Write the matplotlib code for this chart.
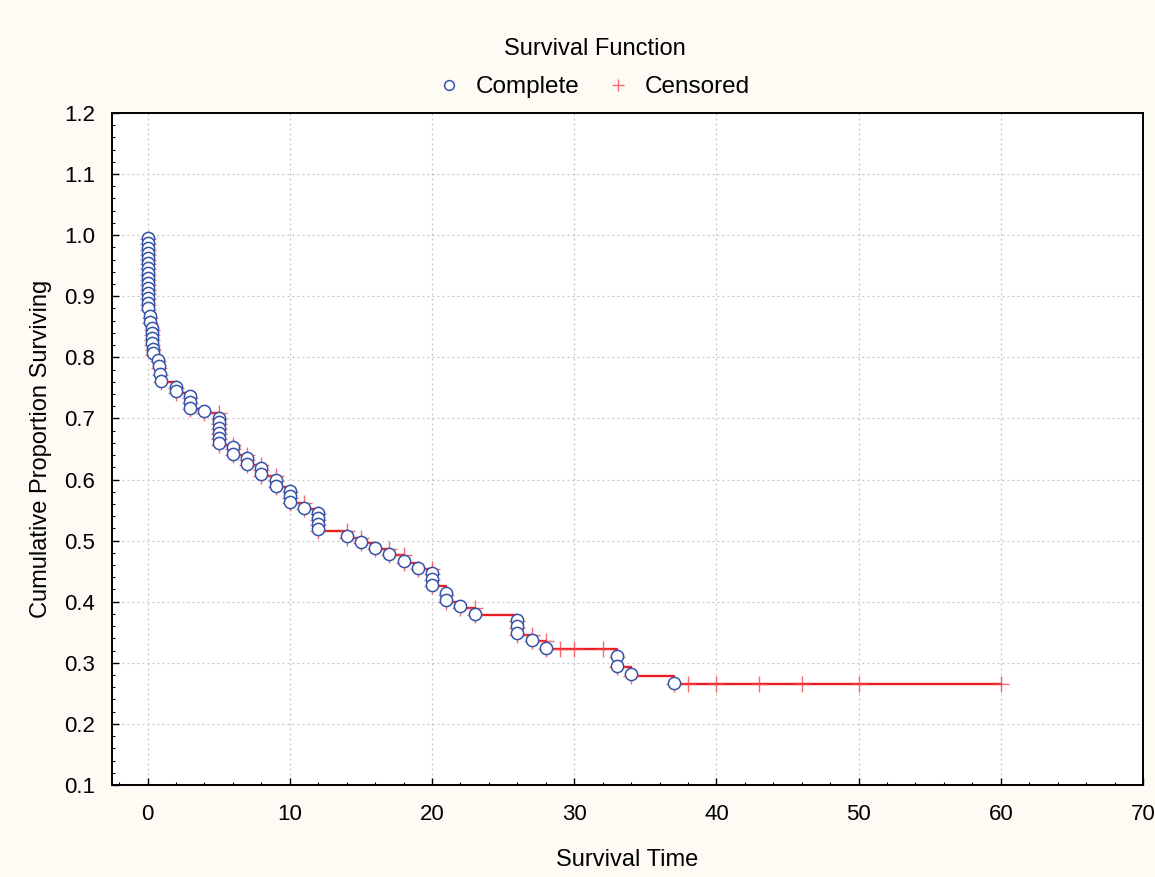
import numpy as np
import matplotlib

matplotlib.use("Agg")
import matplotlib.pyplot as plt
from matplotlib import transforms
from matplotlib.ticker import MultipleLocator

plt.rcParams["font.family"] = ["Liberation Sans", "DejaVu Sans"]

# complete (event) observations: time and cumulative proportion surviving
complete_time = [0, 0, 0, 0, 0, 0,
                 0.05, 0.05, 0.05, 0.05, 0.05, 0.05, 0.05, 0.05, 0.05,
                 0.2, 0.2, 0.3, 0.3, 0.3, 0.3, 0.35, 0.4,
                 0.75, 0.8, 0.9, 0.95,
                 2, 2, 3, 3, 3, 4,
                 5, 5, 5, 5, 5, 5, 6, 6, 7, 7, 8, 8, 9, 9,
                 10, 10, 10, 11, 12, 12, 12, 12,
                 14, 15, 16, 17, 18, 19, 20, 20, 20, 21, 21, 22, 23,
                 26, 26, 26, 27, 28, 33, 33, 34, 37]
complete_surv = [0.993, 0.985, 0.976, 0.968, 0.960, 0.952,
                 0.944, 0.935, 0.927, 0.919, 0.911, 0.903, 0.895, 0.886, 0.878,
                 0.865, 0.856, 0.845, 0.837, 0.829, 0.821, 0.812, 0.804,
                 0.794, 0.783, 0.771, 0.759,
                 0.749, 0.742, 0.734, 0.725, 0.715, 0.709,
                 0.699, 0.691, 0.682, 0.674, 0.666, 0.657, 0.650, 0.640, 0.632, 0.623,
                 0.616, 0.606, 0.597, 0.587,
                 0.579, 0.570, 0.561, 0.551, 0.543, 0.534, 0.525, 0.516,
                 0.505, 0.496, 0.486, 0.476, 0.464, 0.453, 0.445, 0.435, 0.425,
                 0.411, 0.400, 0.390, 0.378,
                 0.368, 0.357, 0.346, 0.335, 0.322, 0.309, 0.293, 0.279, 0.265]

# censored observations
censored_time = [5, 6, 7, 8, 9, 11, 14, 15, 17, 18, 20, 23, 27, 28, 29, 30, 32,
                 38, 40, 43, 46, 50, 60]
censored_surv = [0.709, 0.657, 0.640, 0.623, 0.606, 0.561, 0.516, 0.505, 0.486,
                 0.476, 0.453, 0.390, 0.346, 0.335, 0.322, 0.322, 0.322,
                 0.265, 0.265, 0.265, 0.265, 0.265, 0.265]

# step curve through every observation, ties ordered from high to low
all_t = np.array(complete_time + censored_time, dtype=float)
all_s = np.array(complete_surv + censored_surv, dtype=float)
order = np.lexsort((-all_s, all_t))
step_t, step_s = all_t[order], all_s[order]

bg = "#fdfbf3"
red = "#ec1c24"
plus_red = "#f5474d"
blue = "#3553a8"

fig = plt.figure(figsize=(11.55, 8.77), dpi=100, facecolor=bg)
ax = fig.add_axes([0.097, 0.1049, 0.8926, 0.7663])
ax.set_facecolor("white")

ax.plot(step_t, step_s, drawstyle="steps-post", color=red, lw=1.7, zorder=2)
ax.plot(complete_time, complete_surv, ls="none", marker="+", ms=11, mew=1.0,
        color=plus_red, alpha=0.8, zorder=3)
h_cens, = ax.plot(censored_time, censored_surv, ls="none", marker="+", ms=11,
                  mew=1.0, color=plus_red, alpha=0.8, zorder=3, label="Censored")

# circles sit a touch above the step line
lift = transforms.offset_copy(ax.transData, fig=fig, x=0, y=1.5, units="dots")
h_comp, = ax.plot(complete_time, complete_surv, ls="none", marker="o", ms=8.8,
                  mew=1.1, mec=blue, mfc="white", zorder=4, transform=lift,
                  label="Complete")

ax.set_xlim(-2.5, 70)
ax.set_ylim(0.1, 1.2)
ax.xaxis.set_major_locator(MultipleLocator(10))
ax.xaxis.set_minor_locator(MultipleLocator(2))
ax.yaxis.set_major_locator(MultipleLocator(0.1))
ax.yaxis.set_minor_locator(MultipleLocator(0.02))
ax.yaxis.set_major_formatter(plt.FormatStrFormatter("%.1f"))

ax.tick_params(which="major", direction="in", length=5, width=1.0,
               labelsize=16, pad=12)
ax.tick_params(which="minor", direction="in", length=2.5, width=0.8)
ax.tick_params(axis="x", which="major", pad=14)

ax.grid(True, which="major", ls=(0, (1.5, 2.5)), color="#c4c4c4", lw=0.9)
ax.set_axisbelow(True)
for sp in ax.spines.values():
    sp.set_linewidth(1.4)
    sp.set_color("black")

ax.set_xlabel("Survival Time", fontsize=17, labelpad=17)
ax.set_ylabel("Cumulative Proportion Surviving", fontsize=17, labelpad=9)

leg = fig.legend(handles=[h_comp, h_cens], loc="upper center",
                 bbox_to_anchor=(0.515, 0.982), ncol=2, frameon=False,
                 title="Survival Function", fontsize=17.5, title_fontsize=17,
                 handlelength=0.8, handletextpad=0.7, columnspacing=1.2,
                 markerscale=0.8)
leg._legend_box.sep = 12

fig.savefig("out.png", dpi=100, facecolor=bg)
